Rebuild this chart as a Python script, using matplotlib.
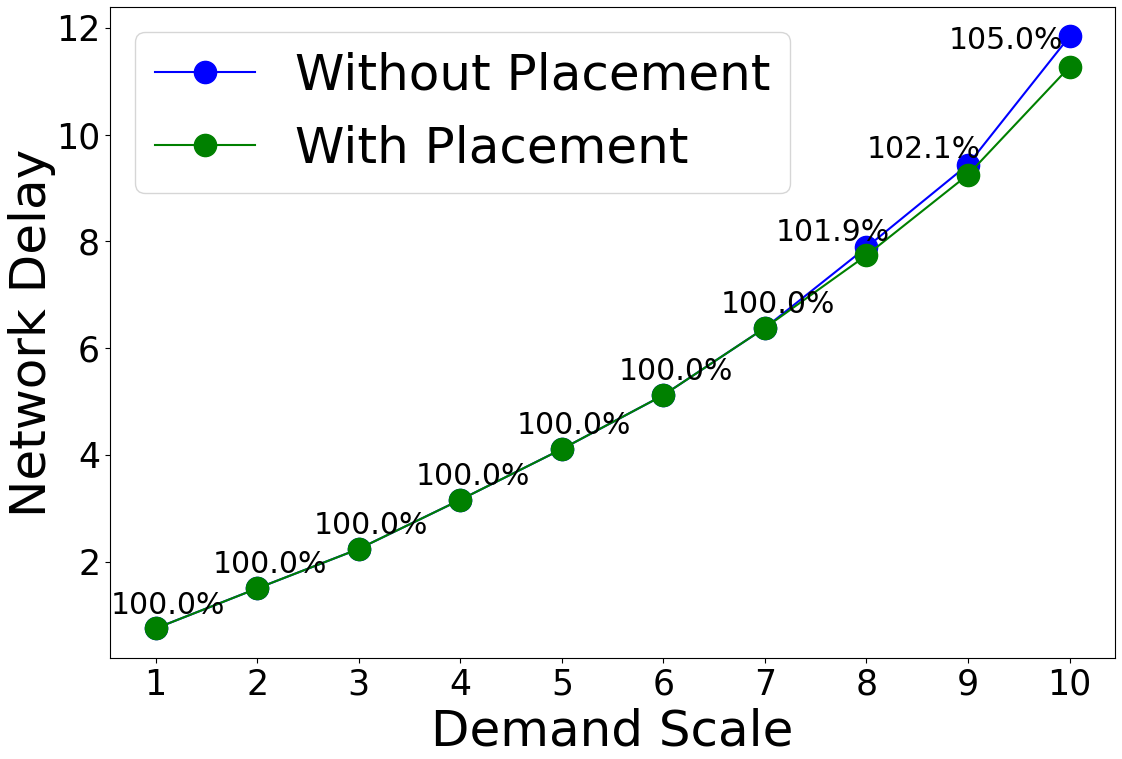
import matplotlib
matplotlib.use('Agg')
import matplotlib.pyplot as plt

# demand scale vs network delay
scale = [1, 2, 3, 4, 5, 6, 7, 8, 9, 10]
delay_without = [0.75, 1.50, 2.24, 3.16, 4.11, 5.12, 6.38, 7.89, 9.44, 11.84]
delay_with = [0.75, 1.50, 2.24, 3.16, 4.11, 5.12, 6.38, 7.74, 9.25, 11.27]
ratio_labels = ['100.0%', '100.0%', '100.0%', '100.0%', '100.0%', '100.0%', '100.0%',
                '101.9%', '102.1%', '105.0%']

# label offsets (data units)
dx = [-0.44] * 7 + [-0.89, -1.0, -1.19]
dy = [0.28] * 7 + [0.12, 0.13, -0.24]

fig = plt.figure(figsize=(11.22, 7.59), dpi=100)
ax = fig.add_subplot(111)
ax.plot(scale, delay_without, 'b-o', markersize=16, label='Without Placement')
ax.plot(scale, delay_with, 'g-o', markersize=16, label='With Placement')

for i in range(len(scale)):
    ax.text(scale[i] + dx[i], delay_without[i] + dy[i], ratio_labels[i], fontsize=21.5)

ax.set_xticks(scale)
ax.tick_params(labelsize=25)
ax.set_xlabel('Demand Scale', fontsize=36)
ax.set_ylabel('Network Delay', fontsize=36, labelpad=0)
ax.legend(loc='upper left', fontsize=36)

plt.subplots_adjust(left=0.098, right=0.994, top=0.991, bottom=0.133)
plt.savefig('out.png', dpi=100)
